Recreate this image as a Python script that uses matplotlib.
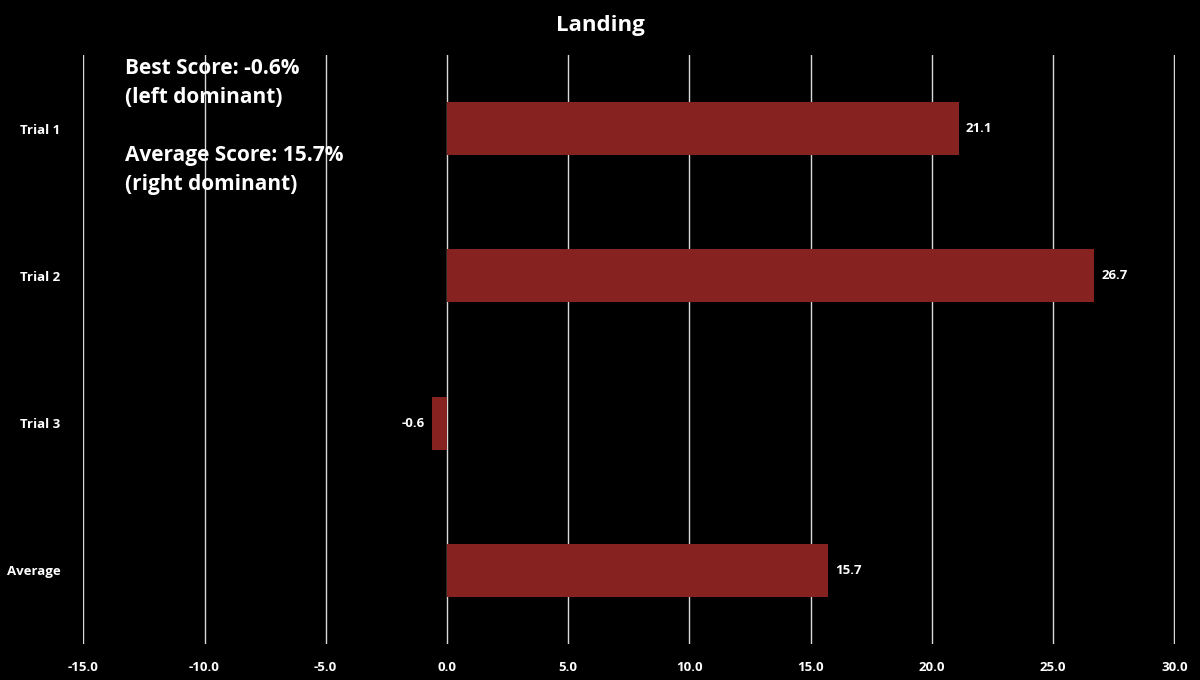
import matplotlib
matplotlib.use("Agg")
import matplotlib.pyplot as plt

categories = ["Trial 1", "Trial 2", "Trial 3", "Average"]
values = [21.1, 26.7, -0.6, 15.7]
xticks = [-15, -10, -5, 0, 5, 10, 15, 20, 25, 30]

plt.rcParams['font.family'] = ['Open Sans', 'DejaVu Sans']
fig = plt.figure(figsize=(12, 6.8), dpi=100, facecolor='black')
ax = fig.add_axes([0.069, 0.053, 0.910, 0.866], facecolor='black')
y = list(range(len(categories)))
ax.barh(y, values, height=0.36, color='#862220', zorder=3)
for yi, v in zip(y, values):
    if v >= 0:
        ax.text(v + 0.3, yi, f"{v:.1f}", color='white', fontsize=9.5, fontweight='bold', va='center', ha='left')
    else:
        ax.text(v - 0.3, yi, f"{v:.1f}", color='white', fontsize=9.5, fontweight='bold', va='center', ha='right')
ax.set_xlim(-15.02, 30.02)
ax.set_ylim(3.5, -0.5)
ax.set_xticks(xticks)
ax.set_xticklabels([f"{t:.1f}" for t in xticks], color='white', fontsize=9.5, fontweight='bold')
ax.set_yticks(y)
ax.set_yticklabels(categories, color='white', fontsize=9.5, fontweight='bold')
ax.tick_params(length=0, pad=12)
ax.tick_params(axis='y', pad=16)
ax.grid(axis='x', color='#d9d9d9', linewidth=1, zorder=0)
for s in ax.spines.values():
    s.set_visible(False)
fig.text(0.5, 0.962, "Landing", color='white', fontsize=16, fontweight='bold', ha='center', va='center')
fig.text(0.104, 0.915, "Best Score: -0.6%\n(left dominant)\n\nAverage Score: 15.7%\n(right dominant)",
         color='white', fontsize=15, fontweight='bold', ha='left', va='top', linespacing=1.5)
fig.savefig("out.png", facecolor='black')
